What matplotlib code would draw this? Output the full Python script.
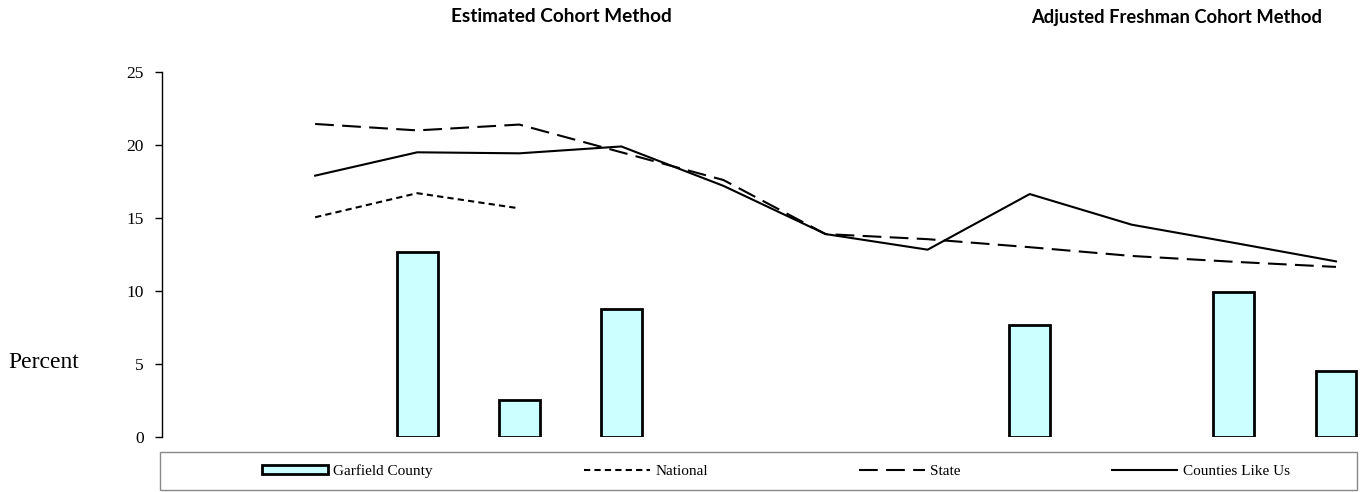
import numpy as np
from matplotlib import pyplot as plt
from matplotlib.patches import Patch, Rectangle
from matplotlib.lines import Line2D

nan = np.nan

# 12 category slots, first one is empty
positions = np.arange(12)
garfield = [nan, nan, 12.67, 2.56, 8.77, nan, nan, nan, 7.65, nan, 9.93, 4.5]
national = [nan, 15.05, 16.7, 15.66, nan, nan, nan, nan, nan, nan, nan, nan]
state = [nan, 21.44, 21.0, 21.4, 19.5, 17.6, 13.9, 13.55, 13.0, 12.4, 12.0, 11.65]
counties = [nan, 17.9, 19.5, 19.43, 19.9, 17.2, 13.9, 12.83, 16.64, 14.54, 13.3, 12.03]
yticks = [0, 5, 10, 15, 20, 25]

serif = ['Liberation Serif', 'DejaVu Serif']
sans = ['Lato', 'DejaVu Sans']

fig = plt.figure(figsize=(13.6, 4.92), dpi=100)
ax = fig.add_axes([162/1360, 1 - 437/492, 1225/1360, (437 - 72)/492])

ax.bar(positions, garfield, width=0.4, color='#CCFFFF', edgecolor='black', linewidth=2)
ax.plot(positions, national, color='black', lw=1.5, dashes=(3, 2))
ax.plot(positions, state, color='black', lw=1.5, dashes=(9, 4))
ax.plot(positions, counties, color='black', lw=1.5)

ax.set_xlim(-0.5, 11.5)
ax.set_ylim(0, 25)
ax.set_yticks(yticks)
ax.set_xticks([])
for s in ['top', 'right', 'bottom']:
    ax.spines[s].set_visible(False)
ax.spines['left'].set_linewidth(1)
ax.tick_params(axis='y', length=5, width=1, pad=8)
for lab in ax.get_yticklabels():
    lab.set_family(serif)
    lab.set_fontsize(12.5)

fig.text(8/1360, 1 - 362/492, 'Percent', family=serif, fontsize=17, va='center', ha='left')

fig.text(561/1360, 1 - 17/492, 'Estimated Cohort Method', family=sans,
         fontweight='bold', fontsize=13.7, ha='center', va='center')
fig.text(1177/1360, 1 - 17/492, 'Adjusted Freshman Cohort Method', family=sans,
         fontweight='bold', fontsize=13.2, ha='center', va='center')

# legend frame drawn by hand so it spans the full width
fig.patches.append(Rectangle((160/1360, 2/492), 1197/1360, 38/492, transform=fig.transFigure,
                             fill=False, edgecolor='#888888', linewidth=1))

handles = [
    Patch(facecolor='#CCFFFF', edgecolor='black', linewidth=2),
    Line2D([], [], color='black', lw=1.5, dashes=(3, 2)),
    Line2D([], [], color='black', lw=1.5, dashes=(9, 4)),
    Line2D([], [], color='black', lw=1.5),
]
labels = ['Garfield County', 'National', 'State', 'Counties Like Us']
fig.legend(handles, labels, loc='center', ncol=4,
           bbox_to_anchor=(776/1360, 1 - 471/492),
           prop={'family': serif, 'size': 11}, handlelength=4.3, handleheight=0.6,
           handletextpad=0.35, columnspacing=9.9, borderaxespad=0, frameon=False)

fig.savefig('out.png', dpi=100)
